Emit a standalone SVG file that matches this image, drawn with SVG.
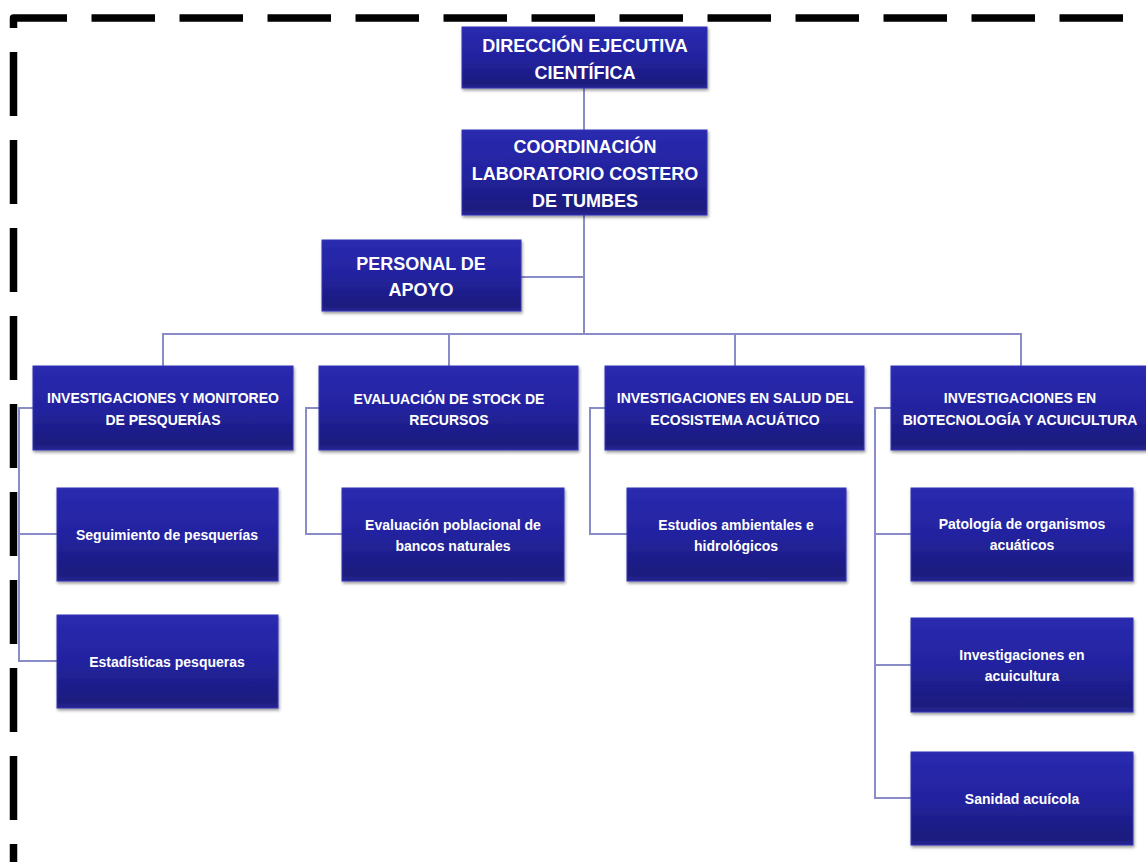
<svg xmlns="http://www.w3.org/2000/svg" width="1146" height="862" viewBox="0 0 1146 862">
<defs>
<linearGradient id="g" x1="0" y1="0" x2="0" y2="1">
<stop offset="0" stop-color="#2a2ab0"/>
<stop offset="0.5" stop-color="#2323a0"/>
<stop offset="0.92" stop-color="#1b1b7e"/>
<stop offset="1" stop-color="#262690"/>
</linearGradient>
<filter id="sh" x="-10%" y="-10%" width="120%" height="130%">
<feDropShadow dx="1" dy="2" stdDeviation="1.5" flood-color="#000" flood-opacity="0.4"/>
</filter>
</defs>
<style>
.b{fill:url(#g);stroke:#3535b5;stroke-width:1;filter:url(#sh)}
.t{font-family:"Liberation Sans",Arial,sans-serif;font-weight:bold;fill:#ffffff;text-anchor:middle}
.h1{font-size:18px}
.h2{font-size:14px}
.s{font-size:14px}
.c{fill:none;stroke:#8a8cc8;stroke-width:2}
.d{fill:none;stroke:#000;stroke-width:7.5;stroke-dasharray:63.5 24.5;stroke-linejoin:round}
</style>
<rect width="1146" height="862" fill="#fff"/>
<g id="border">
<path class="d" d="M13.5,28 V18 H1146"/>
<path class="d" d="M13.5,52 V862" style="stroke-dasharray:64 24"/>
</g>
<g id="connectors">
<path class="c" d="M584,88 V130"/>
<path class="c" d="M584,215 V334"/>
<path class="c" d="M521,277 H584"/>
<path class="c" d="M163,366 V334 H1021 V366"/>
<path class="c" d="M449,334 V366"/>
<path class="c" d="M735,334 V366"/>
<path class="c" d="M33,408 H19 V661 H57"/>
<path class="c" d="M19,534 H57"/>
<path class="c" d="M319,408 H306 V534 H342"/>
<path class="c" d="M605,408 H590 V534 H627"/>
<path class="c" d="M891,408 H875 V798 H911"/>
<path class="c" d="M875,534 H911"/>
<path class="c" d="M875,665 H911"/>
</g>
<g id="n1"><rect class="b" x="462" y="27" width="245" height="61"/>
<text class="t h1" x="585" y="52">DIRECCIÓN EJECUTIVA</text>
<text class="t h1" x="585" y="79">CIENTÍFICA</text></g>
<g id="n2"><rect class="b" x="462" y="130" width="245" height="85"/>
<text class="t h1" x="585" y="153">COORDINACIÓN</text>
<text class="t h1" x="585" y="180">LABORATORIO COSTERO</text>
<text class="t h1" x="585" y="207">DE TUMBES</text></g>
<g id="n3"><rect class="b" x="322" y="240" width="199" height="71"/>
<text class="t h1" x="421" y="270">PERSONAL DE</text>
<text class="t h1" x="421" y="296">APOYO</text></g>
<g id="c1"><rect class="b" x="33" y="366" width="260" height="84"/>
<text class="t h2" x="163" y="403">INVESTIGACIONES Y MONITOREO</text>
<text class="t h2" x="163" y="425">DE PESQUERÍAS</text></g>
<g id="c2"><rect class="b" x="319" y="366" width="259" height="84"/>
<text class="t h2" x="449" y="404">EVALUACIÓN DE STOCK DE</text>
<text class="t h2" x="449" y="425">RECURSOS</text></g>
<g id="c3"><rect class="b" x="605" y="366" width="259" height="84"/>
<text class="t h2" x="735" y="403">INVESTIGACIONES EN SALUD DEL</text>
<text class="t h2" x="735" y="425">ECOSISTEMA ACUÁTICO</text></g>
<g id="c4"><rect class="b" x="891" y="366" width="259" height="84"/>
<text class="t h2" x="1020" y="403">INVESTIGACIONES EN</text>
<text class="t h2" x="1020" y="425">BIOTECNOLOGÍA Y ACUICULTURA</text></g>
<g id="s11"><rect class="b" x="57" y="488" width="221" height="93"/>
<text class="t s" x="167" y="540">Seguimiento de pesquerías</text></g>
<g id="s12"><rect class="b" x="57" y="615" width="221" height="93"/>
<text class="t s" x="167" y="667">Estadísticas pesqueras</text></g>
<g id="s21"><rect class="b" x="342" y="488" width="222" height="93"/>
<text class="t s" x="453" y="530">Evaluación poblacional de</text>
<text class="t s" x="453" y="551">bancos naturales</text></g>
<g id="s31"><rect class="b" x="627" y="488" width="219" height="93"/>
<text class="t s" x="736" y="530">Estudios ambientales e</text>
<text class="t s" x="736" y="551">hidrológicos</text></g>
<g id="s41"><rect class="b" x="911" y="488" width="222" height="93"/>
<text class="t s" x="1022" y="529">Patología de organismos</text>
<text class="t s" x="1022" y="550">acuáticos</text></g>
<g id="s42"><rect class="b" x="911" y="618" width="222" height="94"/>
<text class="t s" x="1022" y="660">Investigaciones en</text>
<text class="t s" x="1022" y="681">acuicultura</text></g>
<g id="s43"><rect class="b" x="911" y="752" width="222" height="93"/>
<text class="t s" x="1022" y="804">Sanidad acuícola</text></g>
</svg>
